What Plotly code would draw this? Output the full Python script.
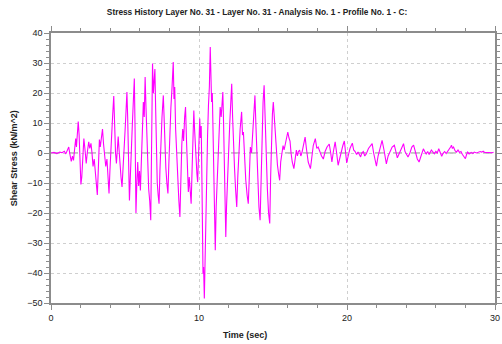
import plotly.graph_objects as go

# Shear stress history, layer 31
time_s = [
    0, 0.2, 0.4, 0.6, 0.75, 0.9, 1.0, 1.1, 1.2, 1.28, 1.37, 1.45, 1.52, 1.6, 1.67, 1.72, 1.78, 1.84, 1.9, 1.95,
    2.02, 2.08, 2.14, 2.22, 2.3, 2.38, 2.46, 2.55, 2.62, 2.7, 2.77, 2.84, 2.92, 3.0, 3.08, 3.13, 3.2, 3.27, 3.33, 3.4,
    3.48, 3.55, 3.62, 3.7, 3.78, 3.85, 3.92, 3.98, 4.05, 4.1, 4.16, 4.24, 4.3, 4.36, 4.42, 4.48, 4.54, 4.6, 4.67, 4.73,
    4.8, 4.86, 4.93, 5.0, 5.06, 5.13, 5.18, 5.24, 5.3, 5.36, 5.42, 5.5, 5.57, 5.63, 5.68, 5.74, 5.8, 5.86, 5.92, 5.98,
    6.04, 6.1, 6.17, 6.24, 6.3, 6.36, 6.42, 6.48, 6.54, 6.6, 6.67, 6.74, 6.78, 6.82, 6.86, 6.92, 6.97, 7.02, 7.07, 7.12,
    7.18, 7.24, 7.3, 7.36, 7.42, 7.5, 7.59, 7.64, 7.7, 7.76, 7.83, 7.9, 7.96, 8.02, 8.1, 8.18, 8.26, 8.31, 8.36, 8.42,
    8.5, 8.57, 8.64, 8.71, 8.77, 8.84, 8.9, 8.96, 9.03, 9.09, 9.15, 9.21, 9.28, 9.34, 9.41, 9.47, 9.53, 9.59, 9.65, 9.7,
    9.75, 9.8, 9.86, 9.91, 9.96, 10.01, 10.05, 10.1, 10.15, 10.2, 10.24, 10.27, 10.31, 10.36, 10.42, 10.5, 10.58, 10.64, 10.7, 10.76,
    10.8, 10.85, 10.9, 10.95, 11.0, 11.05, 11.1, 11.16, 11.22, 11.3, 11.36, 11.43, 11.5, 11.56, 11.61, 11.66, 11.72, 11.77, 11.81, 11.86,
    11.92, 12.0, 12.08, 12.15, 12.21, 12.27, 12.33, 12.4, 12.47, 12.55, 12.62, 12.7, 12.78, 12.88, 12.94, 13.0, 13.08, 13.16, 13.25, 13.33,
    13.4, 13.47, 13.55, 13.63, 13.7, 13.78, 13.84, 13.9, 13.97, 14.05, 14.13, 14.2, 14.27, 14.33, 14.4, 14.45, 14.5, 14.56, 14.62, 14.7,
    14.78, 14.84, 14.9, 14.96, 15.02, 15.08, 15.15, 15.22, 15.3, 15.38, 15.45, 15.52, 15.6, 15.68, 15.75, 15.82, 15.9, 16.0, 16.08, 16.15,
    16.22, 16.3, 16.41, 16.5, 16.58, 16.65, 16.72, 16.8, 16.88, 16.95, 17.05, 17.17, 17.27, 17.38, 17.53, 17.62, 17.72, 17.86, 17.96, 18.05,
    18.15, 18.28, 18.4, 18.52, 18.65, 18.8, 18.9, 18.98, 19.08, 19.2, 19.3, 19.4, 19.5, 19.6, 19.72, 19.82, 19.9, 19.98, 20.08, 20.2,
    20.36, 20.45, 20.55, 20.65, 20.75, 20.85, 20.92, 21.0, 21.1, 21.2, 21.3, 21.45, 21.6, 21.7, 21.8, 21.9, 21.99, 22.1, 22.25, 22.37,
    22.5, 22.58, 22.66, 22.78, 22.9, 23.05, 23.2, 23.3, 23.4, 23.5, 23.65, 23.82, 23.92, 24.02, 24.12, 24.25, 24.38, 24.5, 24.62, 24.75,
    24.87, 24.98, 25.08, 25.16, 25.25, 25.35, 25.45, 25.55, 25.7, 25.8, 25.9, 26.0, 26.1, 26.2, 26.3, 26.4, 26.5, 26.6, 26.7, 26.8,
    26.9, 27.0, 27.06, 27.12, 27.2, 27.3, 27.4, 27.5, 27.6, 27.7, 27.8, 27.9, 28.0, 28.08, 28.15, 28.25, 28.4, 28.5, 28.6, 28.75,
    28.9, 29.0, 29.1, 29.2, 29.3, 29.45, 29.6, 29.8, 29.9,
]

shear_stress = [
    0, 0.2, -0.2, 0.3, 0.1, 0.6, -0.3, 0.8, 2.0, -0.5, -2.8, -1.0, -2.5, 1.5, 4.8, 2.0, 7.5, 10.5, 6, -2,
    -10.5, -8, -1, 4.8, 1, -3.5, 0.5, 3.7, 1.5, 3.2, 0, -4.5, -2, -8, -11, -14, -5, 4.5, 2, 5.5,
    8, 3, -1, -4.5, -2, -9, -13.5, -6, 3, 6.5, 12, 19, 8, 0, -3.5, 2, 5.5, 1, -5, -8,
    -11.3, -4, 3, 7, 13, 20.3, 12, -3, -15.8, -8, 2, 10, 18, 24.8, 8, -20, -10, -3, -11, -6,
    -12.5, -4, 8, 17, 12, 25.3, 15, 3, -5, -12, -16, -22.4, -5, 15, 29.8, 20, 23, 28, 15, -2,
    -10, -14, -16.9, -6, 5, 12, 19.2, 10, 4, -5, -10, -13.5, -4, 6, 15, 22, 30.3, 18, 22, 8,
    -2, -10, -16, -21.3, -8, 3, 8, 4, 12, 15.3, 5, -3, -13, -8, -12, -16.9, -6, 5, 14.2, 8,
    2, -3, -7, -9.7, 0, 8, 11.5, 5, 9, -10, -28, -40.2, -38, -48.5, -30, -5, 6, 16, 22, 35.3,
    25, 17, 20, 5, -12, -25, -32.4, -18, -10, 2, 10, 15.3, 12, 17, 20.3, 10, -8, -20, -28, -18,
    -12, 0, 10, 18, 23.1, 12, 2, -5, -12, -18, -8, 2, 8, 13.7, 6, 7, -2, -9, -14, -16.9,
    -8, 2, 0, 8, 15, 19.2, 10, 0, -10, -18, -22.4, -8, 8, 17, 22.6, 14, 8, -2, -12, -20,
    -23.5, -8, 5, 13, 17, 12, 5, 0, -4, -7, -9.1, -3, 1, 2.5, 1, 3, 5, 7, 5, 4,
    0, -3, -5.2, -2, 1, -1, 0.5, 1, -1, 0, 3, 5.3, 1, -3, -5.2, -1, 2.5, 4.8, 1.5, 2,
    0.5, -1, -2, 0.5, 2, 3, 0, -3, 0.5, 3.7, 0, -4.1, -2, 0.5, 2.5, 4, 0, -3.3, -1, 1.5,
    3.3, 1, 0.5, -0.5, 0.3, -1, -1.3, 0, 0.5, -1, -0.3, 1.5, 2.5, 3.1, 0, -3, -4.4, -1, 2.5, 4.2,
    1, -2, -3.6, -1, 0.5, 2, 2.6, 0, -1.6, -0.5, 1.5, 3.1, 0.5, -0.5, -1.3, 0, 2, 2.6, 0, -2,
    -3, -1.5, 0.5, 1.4, 0.5, -0.3, 0.5, -0.5, 1, 0.2, -0.3, 0.5, 0, 1.4, 0, -1.1, 0, 0.5, -0.2, 0.5,
    1, 2, 2.6, 1.5, 2, 0.8, 0.3, 1, 0.2, 0.5, -0.5, -1.2, -1.9, -0.5, 0.3, -0.3, 0.2, -0.2, 0.3, 0,
    0.2, 0.5, 0.3, 0.6, 0.2, 0.1, 0.2, 0.1, 0.2,
]

title_text = "Stress History Layer No. 31 - Layer No. 31 - Analysis No. 1 - Profile No. 1 - C:"
x_title = "Time (sec)"
y_title = "Shear Stress (kN/m^2)"

font_family = "Liberation Sans, Arial, sans-serif"
text_color = "#222222"
axis_color = "#8c8c8c"
grid_color = "#cfcfcf"

fig = go.Figure()
fig.add_trace(go.Scatter(
    x=time_s, y=shear_stress, mode="lines",
    line=dict(color="#ff00ff", width=1.1),
    hoverinfo="skip", showlegend=False,
))

# dashed zero reference line
fig.add_hline(y=0, line=dict(color="#8a8a8a", width=1.2, dash="dash"), layer="below")

common_axis = dict(
    showline=True, linecolor=axis_color, linewidth=1.5, mirror="ticks",
    ticks="outside", ticklen=5, tickcolor=axis_color, tickwidth=1,
    showgrid=True, gridcolor=grid_color, griddash="dot", gridwidth=1,
    zeroline=False, automargin=False, ticklabeloverflow="allow",
    tickfont=dict(family=font_family, size=9, color=text_color),
)

fig.update_xaxes(
    range=[0, 30], dtick=10, tick0=0,
    minor=dict(dtick=2, ticks="outside", ticklen=3, tickcolor=axis_color, showgrid=False),
    **common_axis,
)
fig.update_yaxes(
    range=[-50, 40], dtick=10, tick0=0,
    minor=dict(dtick=2, ticks="outside", ticklen=3, tickcolor=axis_color, showgrid=False),
    **common_axis,
)

fig.update_layout(
    width=502, height=344,
    margin=dict(l=51, r=7, t=33, b=41, autoexpand=False),
    paper_bgcolor="white", plot_bgcolor="white",
    title=dict(
        text=f"<b>{title_text}</b>", x=0.512, xanchor="center", y=0.965, yanchor="middle",
        font=dict(family=font_family, size=8.3, color=text_color),
    ),
    annotations=[
        dict(text=f"<b>{x_title}</b>", xref="paper", yref="paper", x=0.437, y=-0.118,
             xanchor="center", yanchor="middle", showarrow=False,
             font=dict(family=font_family, size=9, color=text_color)),
        dict(text=f"<b>{y_title}</b>", xref="paper", yref="paper", x=-0.083, y=0.537,
             xanchor="center", yanchor="middle", showarrow=False, textangle=-90,
             font=dict(family=font_family, size=9, color=text_color)),
    ],
)

fig.write_html("out.html")
